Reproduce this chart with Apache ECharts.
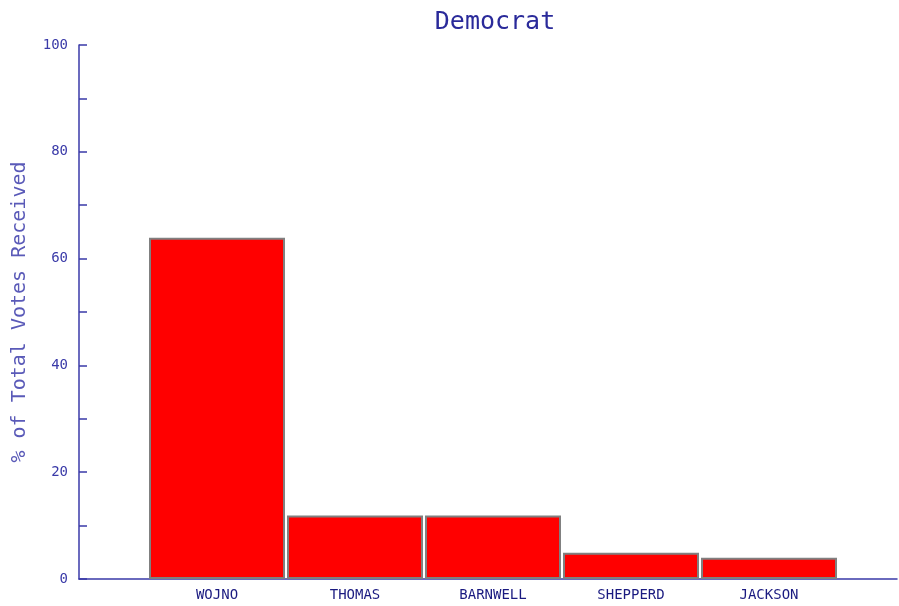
<!DOCTYPE html>
<html><head><meta charset="utf-8">
<script src="https://cdn.jsdelivr.net/npm/echarts@6/dist/echarts.min.js"></script>
<style>html,body{margin:0;padding:0;background:#fff}#c{width:899px;height:606px}</style>
</head><body><div id="c"></div>
<script>
const categories = ['WOJNO', 'THOMAS', 'BARNWELL', 'SHEPPERD', 'JACKSON'];
const values = [63.9, 11.9, 11.9, 4.9, 4.0];
const titleText = 'Democrat';
const yAxisName = '% of Total Votes Received';

const chart = echarts.init(document.getElementById('c'));
const axisColor = '#3a3aa8';
const mono = 'DejaVu Sans Mono';
chart.setOption({
  animation: false,
  title: { text: titleText, left: 490, top: 5, textAlign: 'center',
    textStyle: { fontFamily: mono, fontSize: 25, fontWeight: 'normal', color: '#2a2a9a' } },
  grid: [
    { left: 79, right: 2, top: 45, bottom: 27, containLabel: false, outerBoundsMode: 'none' },
    { left: 148, right: 61, top: 45, bottom: 27, containLabel: false, outerBoundsMode: 'none' }
  ],
  xAxis: [
    { type: 'category', gridIndex: 0, data: [''],
      axisLine: { lineStyle: { color: axisColor, width: 1.5 } },
      axisTick: { show: false }, axisLabel: { show: false }, splitLine: { show: false } },
    { type: 'category', gridIndex: 1, data: categories,
      axisLine: { show: false }, axisTick: { show: false },
      axisLabel: { margin: 9, fontFamily: mono, fontSize: 14, color: '#1a1a80' } }
  ],
  yAxis: [
    { type: 'value', gridIndex: 0, min: 0, max: 100, interval: 10,
      name: yAxisName, nameLocation: 'middle', nameGap: 49, nameRotate: 90,
      nameTextStyle: { fontFamily: mono, fontSize: 20, color: '#5a5ab8' },
      axisLine: { show: true, lineStyle: { color: axisColor, width: 1.5 } },
      axisTick: { show: true, inside: true, length: 8, lineStyle: { color: axisColor, width: 1.5 } },
      axisLabel: { margin: 11, fontFamily: mono, fontSize: 14, color: '#3a3aa8',
        formatter: v => (v % 20 === 0 ? String(v) : '') },
      splitLine: { show: false } },
    { type: 'value', gridIndex: 1, min: 0, max: 100, show: false }
  ],
  series: [{
    type: 'bar', xAxisIndex: 1, yAxisIndex: 1, data: values,
    barCategoryGap: 2,
    itemStyle: { color: '#ff0000', borderColor: '#808080', borderWidth: 2 }
  }]
});
</script></body></html>
